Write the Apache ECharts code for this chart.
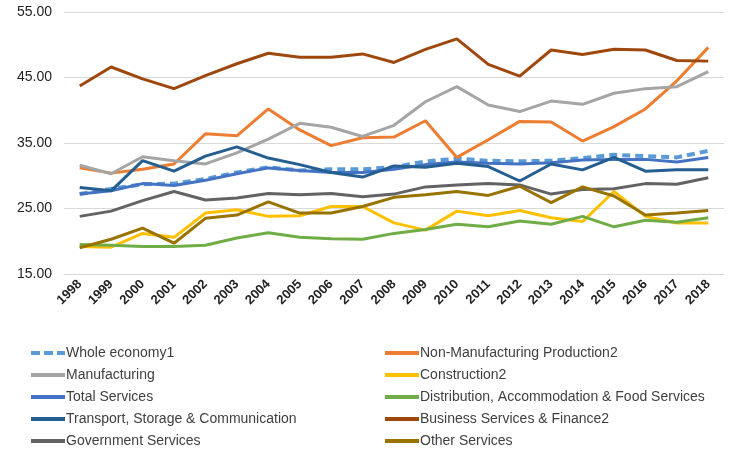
<!DOCTYPE html><html><head><meta charset="utf-8"><script src="https://cdn.jsdelivr.net/npm/echarts@6/dist/echarts.min.js"></script></head><body style="margin:0"><div id="c" style="width:732px;height:458px"></div><script>
const years=['1998','1999','2000','2001','2002','2003','2004','2005','2006','2007','2008','2009','2010','2011','2012','2013','2014','2015','2016','2017','2018'];
const wholeEconomy=[27.2,28.0,28.7,28.8,29.5,30.5,31.3,30.8,31.0,31.0,31.3,32.2,32.6,32.3,32.2,32.3,32.7,33.2,33.0,32.8,33.8];
const nonManuf=[31.2,30.4,31.0,31.8,36.4,36.1,40.2,37.0,34.6,35.8,35.9,38.4,32.8,35.5,38.3,38.2,35.3,37.5,40.2,44.5,49.6];
const manufacturing=[31.6,30.3,32.9,32.3,31.8,33.5,35.6,38.0,37.4,36.0,37.7,41.3,43.6,40.8,39.8,41.4,40.9,42.6,43.3,43.6,45.9];
const construction=[19.2,19.1,21.2,20.6,24.3,24.8,23.8,23.9,25.3,25.3,22.8,21.7,24.6,23.9,24.7,23.6,23.0,27.6,23.8,22.8,22.8];
const distribution=[19.5,19.4,19.2,19.2,19.4,20.5,21.3,20.6,20.4,20.3,21.2,21.8,22.6,22.2,23.1,22.6,23.8,22.2,23.2,22.9,23.6];
const totalServices=[27.2,27.7,28.8,28.5,29.3,30.3,31.2,30.8,30.5,30.5,31.0,31.7,32.1,31.9,31.8,32.0,32.4,32.5,32.5,32.1,32.8];
const transport=[28.2,27.7,32.3,30.7,33.0,34.4,32.7,31.7,30.5,29.8,31.5,31.3,31.9,31.4,29.2,31.8,30.9,32.8,30.7,30.9,30.9];
const business=[43.7,46.6,44.8,43.3,45.3,47.1,48.7,48.1,48.1,48.6,47.3,49.3,50.9,47.0,45.2,49.2,48.5,49.3,49.2,47.6,47.5];
const government=[23.8,24.6,26.2,27.6,26.3,26.6,27.3,27.1,27.3,26.8,27.2,28.3,28.6,28.8,28.6,27.2,27.9,28.0,28.8,28.7,29.7];
const other=[19.0,20.3,22.0,19.7,23.5,24.0,26.0,24.3,24.3,25.3,26.7,27.1,27.6,27.0,28.4,25.9,28.3,26.9,24.0,24.3,24.7];
const defs=[
['Whole economy1',wholeEconomy,'#5B9BD5','dashed',4],
['Non-Manufacturing Production2',nonManuf,'#ED7D31','solid',3],
['Manufacturing',manufacturing,'#A5A5A5','solid',3],
['Construction2',construction,'#FFC000','solid',3],
['Total Services',totalServices,'#4472C4','solid',3],
['Distribution, Accommodation & Food Services',distribution,'#70AD47','solid',3],
['Transport, Storage & Communication',transport,'#255E91','solid',3],
['Business Services & Finance2',business,'#9E480E','solid',3],
['Government Services',government,'#636363','solid',3],
['Other Services',other,'#997300','solid',3]];
const order=defs.map(d=>d[0]);
const dashIcon='path://M0,0h9v4h-9z M13,0h9v4h-9z M26,0h8v4h-8z';
const c=echarts.init(document.getElementById('c'));
const lg=(names,left)=>({data:names.map(n=>({name:n,icon:n==='Whole economy1'?dashIcon:'rect'})),left,top:341,orient:'vertical',itemGap:8,itemWidth:34,itemHeight:4,textStyle:{fontFamily:'Liberation Sans',fontSize:14,color:'#404040',padding:[0,0,0,-4]}});
c.setOption({animation:false,
legend:[lg(order.filter((_,i)=>i%2==0),26),lg(order.filter((_,i)=>i%2==1),380)],
grid:{left:64,right:8,top:12,bottom:184},
xAxis:{type:'category',data:years,boundaryGap:true,axisTick:{show:false},axisLine:{lineStyle:{color:'#d9d9d9'}},axisLabel:{rotate:45,fontFamily:'Liberation Sans',fontSize:13,fontWeight:'bold',color:'#222',margin:8}},
yAxis:{type:'value',min:15,max:55,interval:10,axisLabel:{formatter:v=>v.toFixed(2),fontFamily:'Liberation Sans',fontSize:14,color:'#222',margin:12},splitLine:{lineStyle:{color:'#d9d9d9'}}},
series:defs.map(d=>({name:d[0],type:'line',data:d[1],symbol:'none',color:d[2],lineStyle:{width:d[4],type:d[3]==='dashed'?[8,5]:'solid'}}))});
</script></body></html>
